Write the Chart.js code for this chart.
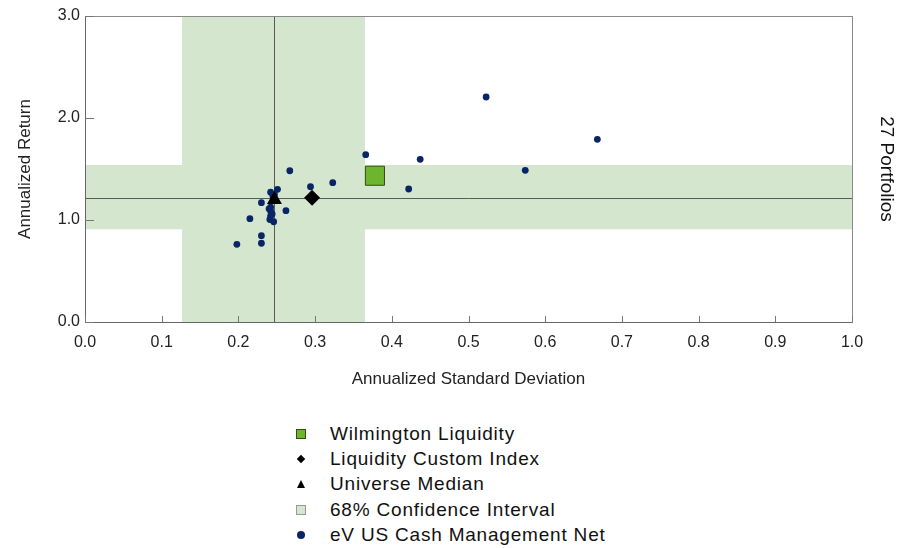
<!DOCTYPE html>
<html>
<head>
<meta charset="utf-8">
<script src="https://cdn.jsdelivr.net/npm/chart.js@4/dist/chart.umd.min.js"></script>
<style>
  body { margin: 0; background: #fff; font-family: "Liberation Sans", Arial, sans-serif; }
  #wrap { position: absolute; left: 0; top: 0; width: 913px; height: 391px; }
  #legend { position: absolute; left: 290px; top: 421px; }
  .row { height: 25.4px; display: flex; align-items: center; font-size: 19px; letter-spacing: 0.8px; color: #111; }
  .mk { width: 22px; height: 16px; position: relative; margin-right: 18px; }
  .mk span { position: absolute; left: 50%; top: 50%; transform: translate(-50%, -50%); }
</style>
</head>
<body>
<div id="wrap"><canvas id="chart" width="913" height="391"></canvas></div>
<div id="legend"></div>
<script>
'use strict';

// eV US Cash Management Net universe (std dev, return)
var universeSD  = [0.366, 0.267, 0.294, 0.323, 0.523, 0.668, 0.437, 0.574, 0.422,
                   0.242, 0.251, 0.230, 0.242, 0.242, 0.262, 0.215, 0.242, 0.241,
                   0.246, 0.230, 0.198, 0.230, 0.245, 0.240, 0.244, 0.247];
var universeRet = [1.640, 1.483, 1.326, 1.366, 2.206, 1.791, 1.595, 1.487, 1.304,
                   1.272, 1.301, 1.170, 1.127, 1.088, 1.091, 1.013, 1.039, 1.005,
                   0.983, 0.846, 0.762, 0.772, 1.235, 1.110, 1.060, 1.250];

var portfolio   = { name: 'Wilmington Liquidity', sd: 0.378, ret: 1.434 };
var benchmark   = { name: 'Liquidity Custom Index', sd: 0.296, ret: 1.219 };
var median      = { name: 'Universe Median', sd: 0.247, ret: 1.20 };
var medianLines = { sd: 0.247, ret: 1.219 };
var confSD      = [0.1265, 0.365];
var confRet     = [0.909, 1.539];

var xTicks = [0, 0.1, 0.2, 0.3, 0.4, 0.5, 0.6, 0.7, 0.8, 0.9, 1.0];
var yTicks = [0, 1.0, 2.0, 3.0];

var navy = '#0a2565';
var bandColor = 'rgb(213,230,207)';

function pts(xs, ys) {
    return xs.map(function (x, i) { return { x: x, y: ys[i] }; });
}

// confidence band + median cross-hair + box + inside ticks
var backdrop = {
    id: 'backdrop',
    beforeDatasetsDraw: function (chart) {
        var ctx = chart.ctx, a = chart.chartArea;
        var xs = chart.scales.x, ys = chart.scales.y;
        var x0 = xs.getPixelForValue(confSD[0]), x1 = xs.getPixelForValue(confSD[1]);
        var y0 = ys.getPixelForValue(confRet[1]), y1 = ys.getPixelForValue(confRet[0]);
        ctx.save();
        ctx.fillStyle = bandColor;
        ctx.fillRect(x0, a.top, x1 - x0, a.bottom - a.top);
        ctx.fillRect(a.left, y0, a.right - a.left, y1 - y0);

        ctx.strokeStyle = '#5a5a5a';
        ctx.lineWidth = 1;
        var mx = Math.round(xs.getPixelForValue(medianLines.sd)) + 0.5;
        var my = Math.round(ys.getPixelForValue(medianLines.ret)) + 0.5;
        ctx.beginPath();
        ctx.moveTo(mx, a.top); ctx.lineTo(mx, a.bottom);
        ctx.moveTo(a.left, my); ctx.lineTo(a.right, my);
        ctx.stroke();

        // frame
        ctx.strokeStyle = '#8a8a8a';
        ctx.strokeRect(Math.round(a.left) + 0.5, Math.round(a.top) + 0.5,
                       Math.round(a.right - a.left), Math.round(a.bottom - a.top));
        ctx.strokeStyle = '#666';
        ctx.beginPath();
        ctx.moveTo(Math.round(a.left) + 0.5, a.top);
        ctx.lineTo(Math.round(a.left) + 0.5, Math.round(a.bottom) + 0.5);
        ctx.lineTo(a.right, Math.round(a.bottom) + 0.5);
        ctx.stroke();

        // ticks pointing inward
        ctx.strokeStyle = '#777';
        ctx.beginPath();
        xTicks.forEach(function (v) {
            var px = Math.round(xs.getPixelForValue(v)) + 0.5;
            ctx.moveTo(px, a.bottom); ctx.lineTo(px, a.bottom - 6);
        });
        yTicks.forEach(function (v) {
            var py = Math.round(ys.getPixelForValue(v)) + 0.5;
            ctx.moveTo(a.left, py); ctx.lineTo(a.left + 9, py);
        });
        ctx.stroke();
        ctx.restore();
    }
};

var tickFont = { family: '"Liberation Sans", Arial, sans-serif', size: 16 };
var titleFont = { family: '"Liberation Sans", Arial, sans-serif', size: 17 };

var chart = new Chart(document.getElementById('chart').getContext('2d'), {
    type: 'scatter',
    data: {
        datasets: [
            {
                label: portfolio.name,
                data: [{ x: portfolio.sd, y: portfolio.ret }],
                pointStyle: 'rect',
                pointRadius: 13.5,
                backgroundColor: '#6cb52d',
                borderColor: '#2f4d18',
                borderWidth: 1
            },
            {
                label: benchmark.name,
                data: [{ x: benchmark.sd, y: benchmark.ret }],
                pointStyle: 'rectRot',
                pointRadius: 8,
                backgroundColor: '#000',
                borderColor: '#000',
                borderWidth: 0
            },
            {
                label: median.name,
                data: [{ x: median.sd, y: median.ret }],
                pointStyle: 'triangle',
                pointRadius: 8.7,
                backgroundColor: '#000',
                borderColor: '#000',
                borderWidth: 0
            },
            {
                label: 'eV US Cash Management Net',
                data: pts(universeSD, universeRet),
                pointStyle: 'circle',
                pointRadius: 3.4,
                backgroundColor: navy,
                borderColor: navy,
                borderWidth: 0
            }
        ]
    },
    options: {
        responsive: false,
        animation: false,
        devicePixelRatio: 1,
        layout: { padding: { top: 16, left: 0, right: 0, bottom: 0 } },
        plugins: { legend: { display: false }, tooltip: { enabled: false } },
        scales: {
            x: {
                type: 'linear', min: 0, max: 1,
                grid: { display: false, drawTicks: false },
                border: { display: false },
                ticks: {
                    stepSize: 0.1, padding: 11, color: '#222', font: tickFont,
                    maxRotation: 0, autoSkip: false,
                    callback: function (v) { return v.toFixed(1); }
                },
                title: { display: true, text: 'Annualized Standard Deviation', color: '#222',
                         font: titleFont, padding: { top: 4, bottom: 1 } },
                afterFit: function (s) { s.height = 69; }
            },
            y: {
                type: 'linear', position: 'left', min: 0, max: 3,
                grid: { display: false, drawTicks: false },
                border: { display: false },
                ticks: {
                    stepSize: 1, padding: 5, color: '#222', font: tickFont,
                    callback: function (v) { return v.toFixed(1); }
                },
                title: { display: true, text: 'Annualized Return', color: '#222',
                         font: titleFont, padding: { top: 15, bottom: 4 } },
                afterFit: function (s) { s.width = 85; }
            },
            y2: {
                type: 'linear', position: 'right', min: 0, max: 3,
                grid: { display: false, drawTicks: false },
                border: { display: false },
                ticks: { display: false },
                title: { display: true, text: '27 Portfolios', color: '#111',
                         font: { family: '"Liberation Sans", Arial, sans-serif', size: 19 },
                         padding: { top: 15, bottom: 4 } },
                afterFit: function (s) { s.width = 61; }
            }
        }
    },
    plugins: [backdrop]
});

// legend rows
var legendItems = [
    { text: portfolio.name, mk: '<span style="width:8px;height:8px;background:#6cb52d;border:1px solid #2f4d18"></span>' },
    { text: benchmark.name, mk: '<span style="width:6px;height:6px;background:#000;transform:translate(-50%,-50%) rotate(45deg)"></span>' },
    { text: median.name, mk: '<span style="width:0;height:0;border-left:4px solid transparent;border-right:4px solid transparent;border-bottom:8px solid #000"></span>' },
    { text: '68% Confidence Interval', mk: '<span style="width:8px;height:8px;background:' + bandColor + ';border:1px solid #999"></span>' },
    { text: 'eV US Cash Management Net', mk: '<span style="width:8px;height:8px;border-radius:50%;background:' + navy + '"></span>' }
];
var legend = document.getElementById('legend');
legendItems.forEach(function (it) {
    var row = document.createElement('div');
    row.className = 'row';
    row.innerHTML = '<div class="mk">' + it.mk + '</div><div>' + it.text + '</div>';
    legend.appendChild(row);
});
</script>
</body>
</html>
